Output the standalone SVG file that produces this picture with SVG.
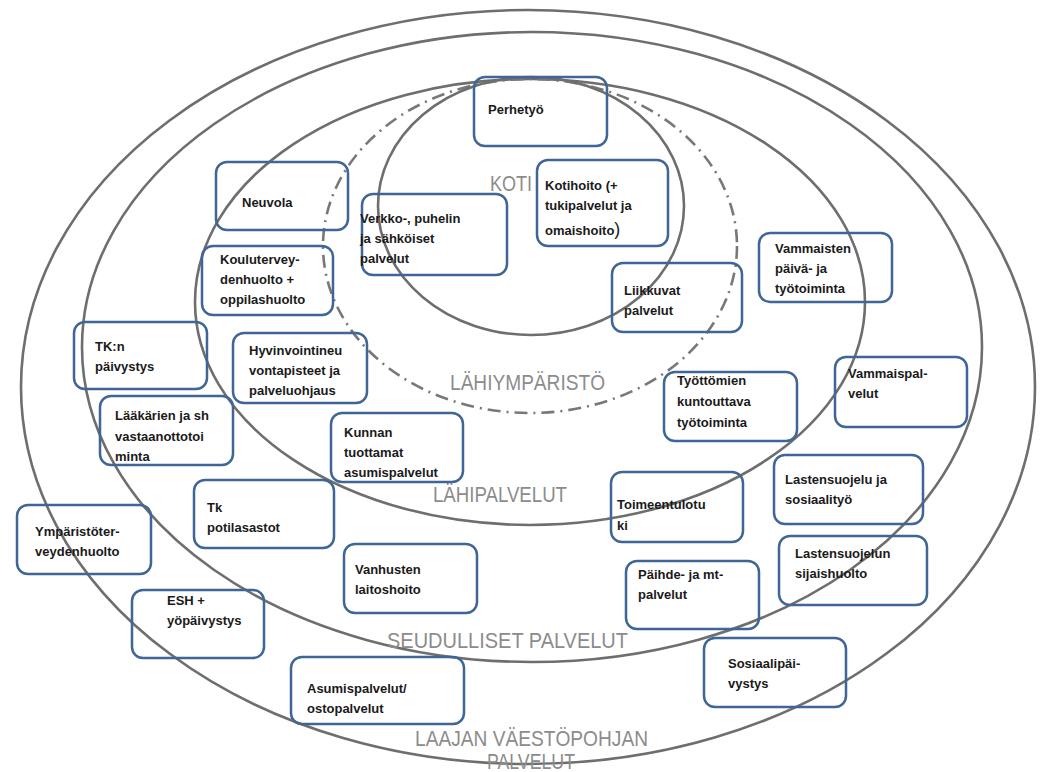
<svg xmlns="http://www.w3.org/2000/svg" width="1042" height="772" viewBox="0 0 1042 772">
  <style>
    .ring { fill: none; stroke: #6e6e6e; stroke-width: 2.6; }
    .ring-dash { fill: none; stroke: #787878; stroke-width: 2.6; stroke-dasharray: 13 6 2 6; }
    .zone { font-family: "Liberation Sans", Arial, sans-serif; font-size: 22px; fill: #8c8c8c; }
    .box { fill: none; stroke: #3f6697; stroke-width: 2.5; }
    .lbl { font-family: "Liberation Sans", Arial, sans-serif; font-size: 13px; font-weight: bold; fill: #1a1a1a; }
  </style>
  <rect width="1042" height="772" fill="#ffffff"/>

  <!-- service-level rings -->
  <g id="rings">
    <ellipse id="ring-laaja" class="ring" cx="528" cy="387" rx="507" ry="377"/>
    <ellipse id="ring-seudulliset" class="ring" cx="532" cy="347" rx="450" ry="315"/>
    <ellipse id="ring-lahipalvelut" class="ring" cx="530" cy="302" rx="335" ry="223"/>
    <ellipse id="ring-lahiymparisto" class="ring-dash" cx="530" cy="246" rx="207" ry="167"/>
    <ellipse id="ring-koti" class="ring" cx="531" cy="206" rx="153" ry="129"/>
  </g>

  <!-- ring titles -->
  <g id="zone-labels">
    <text class="zone" x="490" y="191" textLength="42" lengthAdjust="spacingAndGlyphs">KOTI</text>
    <text class="zone" x="450" y="390" textLength="155" lengthAdjust="spacingAndGlyphs">LÄHIYMPÄRISTÖ</text>
    <text class="zone" x="433" y="502" textLength="134" lengthAdjust="spacingAndGlyphs">LÄHIPALVELUT</text>
    <text class="zone" x="387" y="648" textLength="241" lengthAdjust="spacingAndGlyphs">SEUDULLISET  PALVELUT</text>
    <text class="zone" x="415" y="746" textLength="233" lengthAdjust="spacingAndGlyphs">LAAJAN VÄESTÖPOHJAN</text>
    <text class="zone" x="487" y="769" textLength="88" lengthAdjust="spacingAndGlyphs">PALVELUT</text>
  </g>

  <!-- services -->
  <g id="perhetyo">
    <rect class="box" x="474" y="77" width="133" height="69" rx="11"/>
    <text class="lbl" x="488" y="114">Perhetyö</text>
  </g>
  <g id="neuvola">
    <rect class="box" x="216" y="162" width="132" height="68" rx="11"/>
    <text class="lbl" x="242" y="207">Neuvola</text>
  </g>
  <g id="verkko">
    <rect class="box" x="362" y="194" width="145" height="81" rx="11"/>
    <text class="lbl" x="360" y="223">Verkko-, puhelin</text>
    <text class="lbl" x="360" y="243">ja sähköiset</text>
    <text class="lbl" x="360" y="263">palvelut</text>
  </g>
  <g id="kotihoito">
    <rect class="box" x="537" y="160" width="131" height="86" rx="11"/>
    <text class="lbl" x="545" y="190">Kotihoito (+</text>
    <text class="lbl" x="545" y="210">tukipalvelut ja</text>
    <text class="lbl" x="545" y="235">omaishoito<tspan font-size="18px" font-weight="normal">)</tspan></text>
  </g>
  <g id="kouluterveydenhuolto">
    <rect class="box" x="202" y="246" width="131" height="69" rx="11"/>
    <text class="lbl" x="220" y="264">Koulutervey-</text>
    <text class="lbl" x="220" y="284">denhuolto +</text>
    <text class="lbl" x="220" y="304">oppilashuolto</text>
  </g>
  <g id="liikkuvat">
    <rect class="box" x="612" y="263" width="130" height="69" rx="11"/>
    <text class="lbl" x="624" y="295">Liikkuvat</text>
    <text class="lbl" x="624" y="315">palvelut</text>
  </g>
  <g id="vammaisten-paiva">
    <rect class="box" x="759" y="233" width="133" height="69" rx="11"/>
    <text class="lbl" x="775" y="253">Vammaisten</text>
    <text class="lbl" x="775" y="273">päivä- ja</text>
    <text class="lbl" x="775" y="293">työtoiminta</text>
  </g>
  <g id="tk-paivystys">
    <rect class="box" x="74" y="322" width="133" height="67" rx="11"/>
    <text class="lbl" x="95" y="351">TK:n</text>
    <text class="lbl" x="95" y="371">päivystys</text>
  </g>
  <g id="hyvinvointineuvonta">
    <rect class="box" x="233" y="333" width="134" height="70" rx="11"/>
    <text class="lbl" x="249" y="355">Hyvinvointineu</text>
    <text class="lbl" x="249" y="375">vontapisteet ja</text>
    <text class="lbl" x="249" y="395">palveluohjaus</text>
  </g>
  <g id="tyottomien">
    <rect class="box" x="664" y="372" width="133" height="69" rx="11"/>
    <text class="lbl" x="677" y="385">Työttömien</text>
    <text class="lbl" x="677" y="406">kuntouttava</text>
    <text class="lbl" x="677" y="427">työtoiminta</text>
  </g>
  <g id="vammaispalvelut">
    <rect class="box" x="835" y="357" width="132" height="70" rx="11"/>
    <text class="lbl" x="848" y="378">Vammaispal-</text>
    <text class="lbl" x="848" y="398">velut</text>
  </g>
  <g id="laakarien">
    <rect class="box" x="100" y="396" width="133" height="69" rx="11"/>
    <text class="lbl" x="115" y="420">Lääkärien  ja sh</text>
    <text class="lbl" x="115" y="441">vastaanottotoi</text>
    <text class="lbl" x="115" y="461">minta</text>
  </g>
  <g id="kunnan-asumispalvelut">
    <rect class="box" x="331" y="413" width="132" height="69" rx="11"/>
    <text class="lbl" x="344" y="437">Kunnan</text>
    <text class="lbl" x="344" y="457">tuottamat</text>
    <text class="lbl" x="344" y="477">asumispalvelut</text>
  </g>
  <g id="tk-potilasastot">
    <rect class="box" x="194" y="480" width="140" height="68" rx="11"/>
    <text class="lbl" x="207" y="512">Tk</text>
    <text class="lbl" x="207" y="532">potilasastot</text>
  </g>
  <g id="toimeentulotuki">
    <rect class="box" x="611" y="472" width="132" height="70" rx="11"/>
    <text class="lbl" x="617" y="509">Toimeentulotu</text>
    <text class="lbl" x="617" y="530">ki</text>
  </g>
  <g id="lastensuojelu">
    <rect class="box" x="774" y="455" width="149" height="69" rx="11"/>
    <text class="lbl" x="785" y="484">Lastensuojelu ja</text>
    <text class="lbl" x="785" y="504">sosiaalityö</text>
  </g>
  <g id="ymparistoterveydenhuolto">
    <rect class="box" x="17" y="505" width="134" height="69" rx="11"/>
    <text class="lbl" x="35" y="536">Ympäristöter-</text>
    <text class="lbl" x="35" y="556">veydenhuolto</text>
  </g>
  <g id="sijaishuolto">
    <rect class="box" x="779" y="536" width="148" height="69" rx="11"/>
    <text class="lbl" x="795" y="558">Lastensuojelun</text>
    <text class="lbl" x="795" y="578">sijaishuolto</text>
  </g>
  <g id="vanhusten-laitoshoito">
    <rect class="box" x="344" y="544" width="133" height="69" rx="11"/>
    <text class="lbl" x="355" y="574">Vanhusten</text>
    <text class="lbl" x="355" y="594">laitoshoito</text>
  </g>
  <g id="paihde">
    <rect class="box" x="626" y="561" width="133" height="68" rx="11"/>
    <text class="lbl" x="638" y="579">Päihde- ja mt-</text>
    <text class="lbl" x="638" y="599">palvelut</text>
  </g>
  <g id="esh">
    <rect class="box" x="132" y="590" width="132" height="68" rx="11"/>
    <text class="lbl" x="167" y="605">ESH +</text>
    <text class="lbl" x="167" y="625">yöpäivystys</text>
  </g>
  <g id="sosiaalipaivystys">
    <rect class="box" x="704" y="638" width="142" height="69" rx="11"/>
    <text class="lbl" x="728" y="668">Sosiaalipäi-</text>
    <text class="lbl" x="728" y="688">vystys</text>
  </g>
  <g id="ostopalvelut">
    <rect class="box" x="291" y="657" width="173" height="67" rx="11"/>
    <text class="lbl" x="307" y="693">Asumispalvelut/</text>
    <text class="lbl" x="307" y="713">ostopalvelut</text>
  </g>
</svg>
